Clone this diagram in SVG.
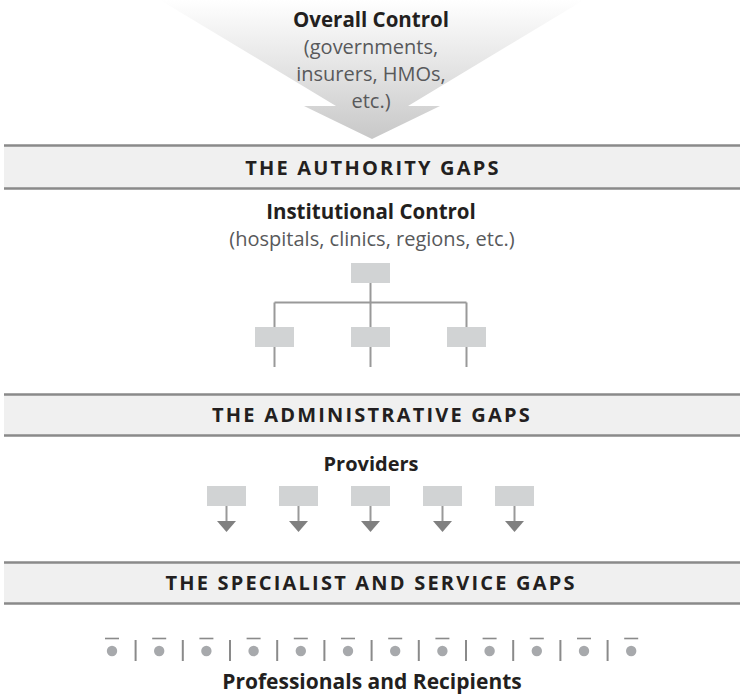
<svg xmlns="http://www.w3.org/2000/svg" width="740" height="695" viewBox="0 0 740 695">
<style>
.t{font-family:"Open Sans","Liberation Sans",sans-serif;text-anchor:middle}
.h{font-weight:bold;fill:#231f20;font-size:21px}
.b{fill:#58595b;font-size:20px}
.band{font-weight:bold;fill:#231f20;font-size:20px;letter-spacing:2.2px}
.bandbg{fill:#f0f0f0}
.bl{stroke:#8a8a8a;stroke-width:2.5}
.box{fill:#d1d3d4}
.ln{stroke:#999;stroke-width:2;fill:none}
.tri{fill:#808080}
.dot{fill:#a7a9ac}
.bar{stroke:#8a8a8a;stroke-width:1.6}
.sep{stroke:#8a8a8a;stroke-width:2}
</style>
<defs>
<linearGradient id="g" x1="0" y1="0" x2="0" y2="139" gradientUnits="userSpaceOnUse">
<stop offset="0" stop-color="#ffffff"/>
<stop offset="1" stop-color="#c8c8c8"/>
</linearGradient>
</defs>
<g id="overall">
<polygon points="160,0 584,0 408,106 440,106 372,139 304,106 336,106" fill="url(#g)"/>
<text class="t h" x="371" y="27" style="font-size:20.5px">Overall Control</text>
<text class="t b" x="371" y="54">(governments,</text>
<text class="t b" x="371" y="81">insurers, HMOs,</text>
<text class="t b" x="371" y="107.5">etc.)</text>
</g>
<g id="band1">
<rect class="bandbg" x="4" y="145" width="736" height="44"/>
<line class="bl" x1="4" y1="145.5" x2="740" y2="145.5"/>
<line class="bl" x1="4" y1="188.5" x2="740" y2="188.5"/>
<text class="t band" x="373" y="174.5">THE AUTHORITY GAPS</text>
</g>
<g id="institutional">
<text class="t h" x="371" y="218.5" style="font-size:20.5px">Institutional Control</text>
<text class="t b" x="372" y="246">(hospitals, clinics, regions, etc.)</text>
</g>
<g id="connectors">
<path class="ln" d="M370.5,283 V302.5 M274.5,302.5 H466.5 M274.5,302.5 V327 M370.5,302.5 V327 M466.5,302.5 V327 M274.5,347 V367 M370.5,347 V367 M466.5,347 V367"/>
<path class="ln" d="M226.5,506 V522 M298.5,506 V522 M370.5,506 V522 M442.5,506 V522 M514.5,506 V522"/>
<polygon class="tri" points="217,521 236,521 226.5,532"/>
<polygon class="tri" points="289,521 308,521 298.5,532"/>
<polygon class="tri" points="361,521 380,521 370.5,532"/>
<polygon class="tri" points="433,521 452,521 442.5,532"/>
<polygon class="tri" points="505,521 524,521 514.5,532"/>
</g>
<g id="org-top"><rect class="box" x="351" y="263" width="39" height="20"/></g>
<g id="org-left"><rect class="box" x="255" y="327" width="39" height="20"/></g>
<g id="org-mid"><rect class="box" x="351" y="327" width="39" height="20"/></g>
<g id="org-right"><rect class="box" x="447" y="327" width="39" height="20"/></g>
<g id="band2">
<rect class="bandbg" x="4" y="394" width="736" height="42"/>
<line class="bl" x1="4" y1="394.5" x2="740" y2="394.5"/>
<line class="bl" x1="4" y1="435.5" x2="740" y2="435.5"/>
<text class="t band" x="372" y="422">THE ADMINISTRATIVE GAPS</text>
</g>
<g id="providers">
<text class="t h" x="371" y="471" style="font-size:20px">Providers</text>
</g>
<g id="prov1"><rect class="box" x="207" y="486" width="39" height="20"/></g>
<g id="prov2"><rect class="box" x="279" y="486" width="39" height="20"/></g>
<g id="prov3"><rect class="box" x="351" y="486" width="39" height="20"/></g>
<g id="prov4"><rect class="box" x="423" y="486" width="39" height="20"/></g>
<g id="prov5"><rect class="box" x="495" y="486" width="39" height="20"/></g>
<g id="band3">
<rect class="bandbg" x="4" y="562" width="736" height="42"/>
<line class="bl" x1="4" y1="562.5" x2="740" y2="562.5"/>
<line class="bl" x1="4" y1="603.5" x2="740" y2="603.5"/>
<text class="t band" x="371" y="590">THE SPECIALIST AND SERVICE GAPS</text>
</g>
<g id="recipients">
<g id="dots">
<circle class="dot" cx="112" cy="651" r="5.2"/><line class="bar" x1="105" y1="638.5" x2="119" y2="638.5"/>
<circle class="dot" cx="159.2" cy="651" r="5.2"/><line class="bar" x1="152.2" y1="638.5" x2="166.2" y2="638.5"/>
<circle class="dot" cx="206.4" cy="651" r="5.2"/><line class="bar" x1="199.4" y1="638.5" x2="213.4" y2="638.5"/>
<circle class="dot" cx="253.6" cy="651" r="5.2"/><line class="bar" x1="246.6" y1="638.5" x2="260.6" y2="638.5"/>
<circle class="dot" cx="300.8" cy="651" r="5.2"/><line class="bar" x1="293.8" y1="638.5" x2="307.8" y2="638.5"/>
<circle class="dot" cx="348" cy="651" r="5.2"/><line class="bar" x1="341" y1="638.5" x2="355" y2="638.5"/>
<circle class="dot" cx="395.2" cy="651" r="5.2"/><line class="bar" x1="388.2" y1="638.5" x2="402.2" y2="638.5"/>
<circle class="dot" cx="442.4" cy="651" r="5.2"/><line class="bar" x1="435.4" y1="638.5" x2="449.4" y2="638.5"/>
<circle class="dot" cx="489.6" cy="651" r="5.2"/><line class="bar" x1="482.6" y1="638.5" x2="496.6" y2="638.5"/>
<circle class="dot" cx="536.8" cy="651" r="5.2"/><line class="bar" x1="529.8" y1="638.5" x2="543.8" y2="638.5"/>
<circle class="dot" cx="584" cy="651" r="5.2"/><line class="bar" x1="577" y1="638.5" x2="591" y2="638.5"/>
<circle class="dot" cx="631.2" cy="651" r="5.2"/><line class="bar" x1="624.2" y1="638.5" x2="638.2" y2="638.5"/>
</g>
<path class="sep" d="M135.6,640 V661 M182.8,640 V661 M230,640 V661 M277.2,640 V661 M324.4,640 V661 M371.6,640 V661 M418.8,640 V661 M466,640 V661 M513.2,640 V661 M560.4,640 V661 M607.6,640 V661"/>
<text class="t h" x="372" y="689">Professionals and Recipients</text>
</g>
</svg>
